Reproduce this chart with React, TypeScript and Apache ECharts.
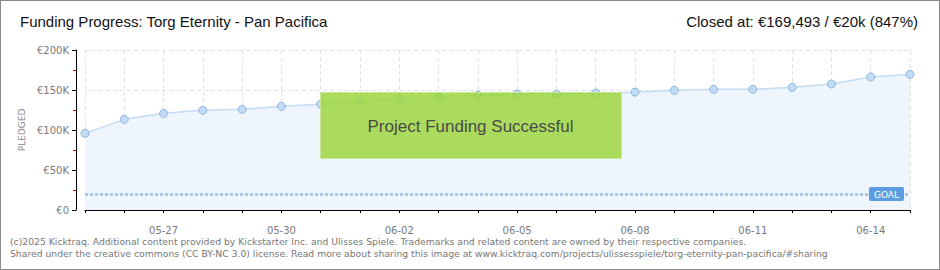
import React, { useEffect, useRef } from "react";
import * as echarts from "echarts";

const dates = [
  "05-25", "05-26", "05-27", "05-28", "05-29", "05-30", "05-31", "06-01", "06-02", "06-03", "06-04",
  "06-05", "06-06", "06-07", "06-08", "06-09", "06-10", "06-11", "06-12", "06-13", "06-14", "06-15",
];
const pledged = [
  95800, 113300, 120800, 124600, 125800, 129600, 132300, 135400, 138700, 141200, 143700,
  145000, 145000, 146200, 147300, 149600, 150800, 150800, 153300, 157500, 166200, 169493,
];
const goal = 20000;
const yTicks = [0, 50000, 100000, 150000, 200000];
const titleText = "Funding Progress: Torg Eternity - Pan Pacifica";
const closedText = "Closed at: €169,493 / €20k (847%)";
const bannerText = "Project Funding Successful";
const footer1 =
  "(c)2025 Kicktraq. Additional content provided by Kickstarter Inc. and Ulisses Spiele. Trademarks and related content are owned by their respective companies.";
const footer2 =
  "Shared under the creative commons (CC BY-NC 3.0) license. Read more about sharing this image at www.kicktraq.com/projects/ulissesspiele/torg-eternity-pan-pacifica/#sharing";

export default function App() {
  const ref = useRef<HTMLDivElement>(null);
  useEffect(() => {
    document.body.style.margin = "0";
    const chart = echarts.init(ref.current!, null, { renderer: "svg" });
    const titleFont = "'Liberation Sans Narrow', sans-serif";
    chart.setOption({
      animation: false,
      backgroundColor: "#ffffff",
      grid: { left: 85, right: 30, top: 50, height: 160, containLabel: false },
      xAxis: {
        type: "category",
        data: dates,
        boundaryGap: false,
        offset: 10,
        axisLine: { lineStyle: { color: "#000", width: 1 } },
        axisTick: { show: true, interval: 0, length: 3, lineStyle: { color: "#000" } },
        axisLabel: {
          interval: (i: number) => i % 3 === 2,
          color: "#7a7a7a",
          fontSize: 10,
          fontFamily: "DejaVu Sans",
          margin: 5,
        },
        splitLine: {
          show: true,
          interval: 0,
          lineStyle: { color: "#e2e2e2", type: [4, 3] },
        },
      },
      yAxis: {
        type: "value",
        min: yTicks[0],
        max: yTicks[yTicks.length - 1],
        interval: 50000,
        offset: 9,
        name: "PLEDGED",
        nameLocation: "middle",
        nameGap: 47,
        nameTextStyle: { color: "#888", fontSize: 9, fontFamily: "DejaVu Sans" },
        axisLine: { show: true, lineStyle: { color: "#000" } },
        axisTick: { show: true, length: 4, lineStyle: { color: "#000" } },
        minorTick: { show: true, splitNumber: 2, length: 3, lineStyle: { color: "#ff0000" } },
        axisLabel: {
          color: "#7a7a7a",
          fontSize: 10,
          fontFamily: "DejaVu Sans",
          margin: 7,
          formatter: (v: number) => (v === 0 ? "€0" : "€" + v / 1000 + "K"),
        },
        splitLine: { show: true, lineStyle: { color: "#e2e2e2", type: [4, 3] } },
      },
      series: [
        {
          type: "line",
          data: pledged,
          symbol: "circle",
          symbolSize: 8,
          lineStyle: { color: "#c3dbf4", width: 1.5 },
          itemStyle: { color: "#c2dcf7", borderColor: "#8fb3dd", borderWidth: 1 },
          areaStyle: { color: "#eef5fd", opacity: 1 },
          z: 2,
          markLine: {
            silent: true,
            symbol: "none",
            lineStyle: { color: "#a7c8ec", type: [3, 2], width: 3 },
            label: {
              show: true,
              position: "insideEndTop",
              formatter: "GOAL",
              color: "#fff",
              fontSize: 9,
              fontFamily: "DejaVu Sans",
              backgroundColor: "#5b9de0",
              borderRadius: 2,
              padding: [3, 5, 2, 5],
              distance: [6, -7],
            },
            data: [{ yAxis: goal }],
          },
        },
      ],
      graphic: [
        {
          type: "rect",
          shape: { x: 0, y: 0, width: 940, height: 270 },
          style: { fill: "none", stroke: "#8a8a8a", lineWidth: 2 },
          z: 100,
          silent: true,
        },
        {
          type: "text",
          left: 20,
          top: 14,
          style: { text: titleText, fill: "#111", font: `15px ${titleFont}` },
        },
        {
          type: "text",
          right: 22,
          top: 14,
          style: { text: closedText, fill: "#111", font: `15px ${titleFont}` },
        },
        {
          type: "rect",
          left: 320,
          top: 92,
          z: 60,
          shape: { x: 0, y: 0, width: 301, height: 66 },
          style: { fill: "rgba(158, 214, 64, 0.85)", stroke: "rgba(200,230,150,0.9)", lineWidth: 1 },
        },
        {
          type: "text",
          x: 470.5,
          y: 126,
          z: 61,
          style: {
            text: bannerText,
            fill: "#4a4a4a",
            font: `17px ${titleFont}`,
            align: "center",
            verticalAlign: "middle",
            textShadowColor: "#ffffff",
            textShadowOffsetX: 1,
            textShadowOffsetY: 1,
            textShadowBlur: 0,
          },
        },
        {
          type: "text",
          left: 10,
          top: 237,
          style: { text: footer1, fill: "#777", font: "9.25px 'DejaVu Sans'" },
        },
        {
          type: "text",
          left: 10,
          top: 249,
          style: { text: footer2, fill: "#777", font: "9.25px 'DejaVu Sans'" },
        },
      ],
    });
    return () => chart.dispose();
  }, []);
  return <div ref={ref} style={{ width: 940, height: 270, position: "fixed", left: 0, top: 0 }} />;
}
